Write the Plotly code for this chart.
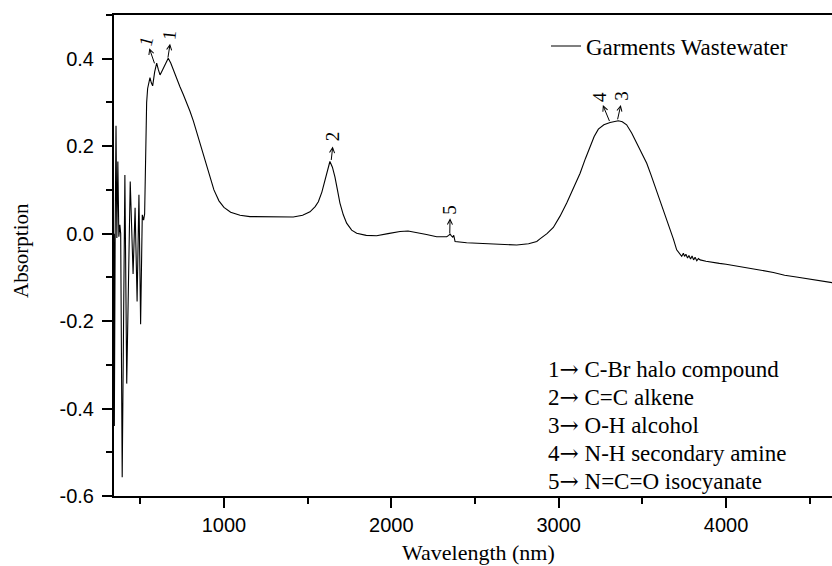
import plotly.graph_objects as go

# ---------------- data ----------------
wavelength = [343, 345, 350, 355, 360, 366, 372, 378, 383, 392, 408, 419, 440, 457, 469, 481, 492, 502, 512, 520, 526,
              532, 538, 544, 551, 558, 566, 574, 586, 598, 608, 618, 630, 642, 655, 667, 682, 697, 717, 737, 757, 777,
              797, 817, 850, 880, 910, 940, 970, 1000, 1040, 1096, 1155, 1275, 1414, 1470, 1514, 1545, 1564, 1585, 1604,
              1620, 1633, 1648, 1663, 1678, 1693, 1713, 1733, 1763, 1793, 1850, 1912, 1980, 2052, 2100, 2151, 2210, 2271,
              2331, 2343, 2351, 2359, 2367, 2373, 2381, 2450, 2550, 2650, 2749, 2820, 2869, 2888, 2930, 2968, 3008, 3048,
              3088, 3128, 3160, 3187, 3212, 3237, 3270, 3307, 3330, 3356, 3380, 3406, 3436, 3466, 3496, 3526, 3551, 3576,
              3600, 3625, 3645, 3665, 3685, 3705, 3720, 3735, 3745, 3752, 3760, 3770, 3778, 3788, 3797, 3806, 3815, 3825,
              3835, 3845, 3880, 3920, 3960, 4000, 4084, 4150, 4200, 4283, 4350, 4420, 4500, 4560, 4634]
absorption = [0.0, -0.44, 0.0, 0.247, -0.01, 0.165, -0.007, 0.02, 0.0, -0.557, 0.134, -0.343, 0.119, -0.092, 0.059,
              -0.155, 0.089, -0.207, 0.043, 0.031, 0.045,
              0.19, 0.30, 0.332, 0.35, 0.357, 0.345, 0.338, 0.37, 0.39, 0.375, 0.363, 0.372, 0.382, 0.392, 0.401, 0.39,
              0.374, 0.355, 0.336, 0.318, 0.300, 0.280, 0.258, 0.215, 0.175, 0.135, 0.100, 0.075, 0.060, 0.049, 0.042,
              0.039, 0.039, 0.038, 0.042, 0.050, 0.062, 0.073, 0.095, 0.123, 0.150, 0.165, 0.152, 0.130, 0.100, 0.070,
              0.043, 0.024, 0.008, 0.001, -0.004, -0.005, 0.0, 0.005, 0.006, 0.003, -0.002, -0.007, -0.007, -0.004,
              -0.001, -0.005, -0.008, -0.004, -0.018, -0.021, -0.023, -0.025, -0.026, -0.023, -0.018, -0.012, 0.0,
              0.014, 0.040, 0.070, 0.104, 0.138, 0.172, 0.199, 0.222, 0.239, 0.249, 0.254, 0.256, 0.258, 0.256, 0.249,
              0.230, 0.207, 0.184, 0.161, 0.135, 0.108, 0.080, 0.054, 0.030, 0.009, -0.012, -0.037, -0.045, -0.052,
              -0.045, -0.052, -0.047, -0.056, -0.050, -0.058, -0.051, -0.060, -0.054, -0.062, -0.057, -0.060, -0.063,
              -0.066, -0.068, -0.070, -0.075, -0.079, -0.083, -0.089, -0.095, -0.099, -0.104, -0.108, -0.112]

series_name = "Garments Wastewater"

# peak markers (arrow tail on curve -> arrow head near label)
peak_labels = ["1", "1", "2", "5", "4", "3"]
peak_tail_x = [588, 664, 1640, 2349, 3307, 3350]
peak_tail_y = [0.386, 0.399, 0.165, -0.003, 0.254, 0.258]
peak_head_x = [554, 678, 1650, 2351, 3264, 3371]
peak_head_y = [0.424, 0.434, 0.199, 0.035, 0.294, 0.294]
peak_label_x = [532, 674, 1650, 2351, 3248, 3377]
peak_label_y = [0.440, 0.455, 0.222, 0.055, 0.313, 0.315]
peak_label_angle = [-75, -85, -90, -90, -90, -90]

key_numbers = ["1", "2", "3", "4", "5"]
key_texts = ["C-Br halo compound", "C=C alkene", "O-H alcohol", "N-H secondary amine", "N=C=O isocyanate"]

x_tick_vals = [1000, 2000, 3000, 4000]
x_tick_text = ["1000", "2000", "3000", "4000"]
y_tick_vals = [-0.6, -0.4, -0.2, 0.0, 0.2, 0.4]
y_tick_text = ["-0.6", "-0.4", "-0.2", "0.0", "0.2", "0.4"]

x_title = "Wavelength (nm)"
y_title = "Absorption"

# ---------------- figure ----------------
W, H = 832, 566
ML, MR, MT, MB = 114, 0, 15, 70
XR = [343, 4633]
YR = [-0.6, 0.5]
serif = "Liberation Serif, Times New Roman, serif"
sans = "Liberation Sans, Arial, sans-serif"
PW = W - ML - MR
PH = H - MT - MB

fig = go.Figure()
fig.add_trace(go.Scatter(x=wavelength, y=absorption, mode="lines", name=series_name,
                         line=dict(color="black", width=1.1)))

for i in range(len(peak_labels)):
    fig.add_annotation(x=peak_head_x[i], y=peak_head_y[i], ax=peak_tail_x[i], ay=peak_tail_y[i],
                       xref="x", yref="y", axref="x", ayref="y", text="", showarrow=True,
                       arrowhead=5, arrowsize=1, arrowwidth=1, arrowcolor="black", standoff=0, startstandoff=0)
    fig.add_annotation(x=peak_label_x[i], y=peak_label_y[i], xref="x", yref="y", text=peak_labels[i],
                       showarrow=False, textangle=peak_label_angle[i],
                       font=dict(family=serif, size=19, color="black"))

key_top_px = 368.7
key_pitch = 28
for i in range(len(key_texts)):
    ypx = key_top_px + i * key_pitch
    line = (key_numbers[i] + "<span style=\"font-family:'DejaVu Serif'\">\u2192</span> " + key_texts[i])
    fig.add_annotation(x=(546 - ML) / PW, y=(H - MB - ypx) / PH, xref="paper", yref="paper",
                       text=line, showarrow=False, xanchor="left", yanchor="middle",
                       font=dict(family=serif, size=23, color="black"))

# axis titles
fig.add_annotation(x=(478 - ML) / PW, y=(H - MB - 552) / PH, xref="paper", yref="paper",
                   text=x_title, showarrow=False, xanchor="center", yanchor="middle",
                   font=dict(family=serif, size=22, color="black"))
fig.add_annotation(x=(21 - ML) / PW, y=(H - MB - 251) / PH, xref="paper", yref="paper",
                   text=y_title, showarrow=False, xanchor="center", yanchor="middle", textangle=-90,
                   font=dict(family=serif, size=21, color="black"))

fig.update_layout(
    width=W, height=H, margin=dict(l=ML, r=MR, t=MT, b=MB, pad=0),
    paper_bgcolor="white", plot_bgcolor="white",
    showlegend=True,
    legend=dict(x=(546 - ML) / PW, y=(H - MB - 46) / PH, xanchor="left", yanchor="middle",
                bgcolor="rgba(0,0,0,0)", font=dict(family=serif, size=23, color="black"),
                itemwidth=30),
    xaxis=dict(range=XR, showgrid=False, zeroline=False, showline=True, linecolor="black", linewidth=2,
               mirror=True, ticks="outside", ticklen=10, tickwidth=1.5, tickcolor="black",
               tickvals=x_tick_vals, ticktext=x_tick_text,
               tickfont=dict(family=sans, size=20, color="black"),
               minor=dict(ticks="outside", ticklen=6, tickwidth=1.5, tickcolor="black",
                          tickvals=[500, 1500, 2500, 3500, 4500])),
    yaxis=dict(range=YR, showgrid=False, zeroline=False, showline=True, linecolor="black", linewidth=2,
               mirror=False, ticks="outside", ticklen=10, tickwidth=1.5, tickcolor="black",
               tickvals=y_tick_vals, ticktext=y_tick_text, ticklabelstandoff=4,
               tickfont=dict(family=sans, size=20, color="black"),
               minor=dict(ticks="outside", ticklen=6, tickwidth=1.5, tickcolor="black",
                          tickvals=[-0.5, -0.3, -0.1, 0.1, 0.3, 0.5])),
)

fig.write_html("out.html")
